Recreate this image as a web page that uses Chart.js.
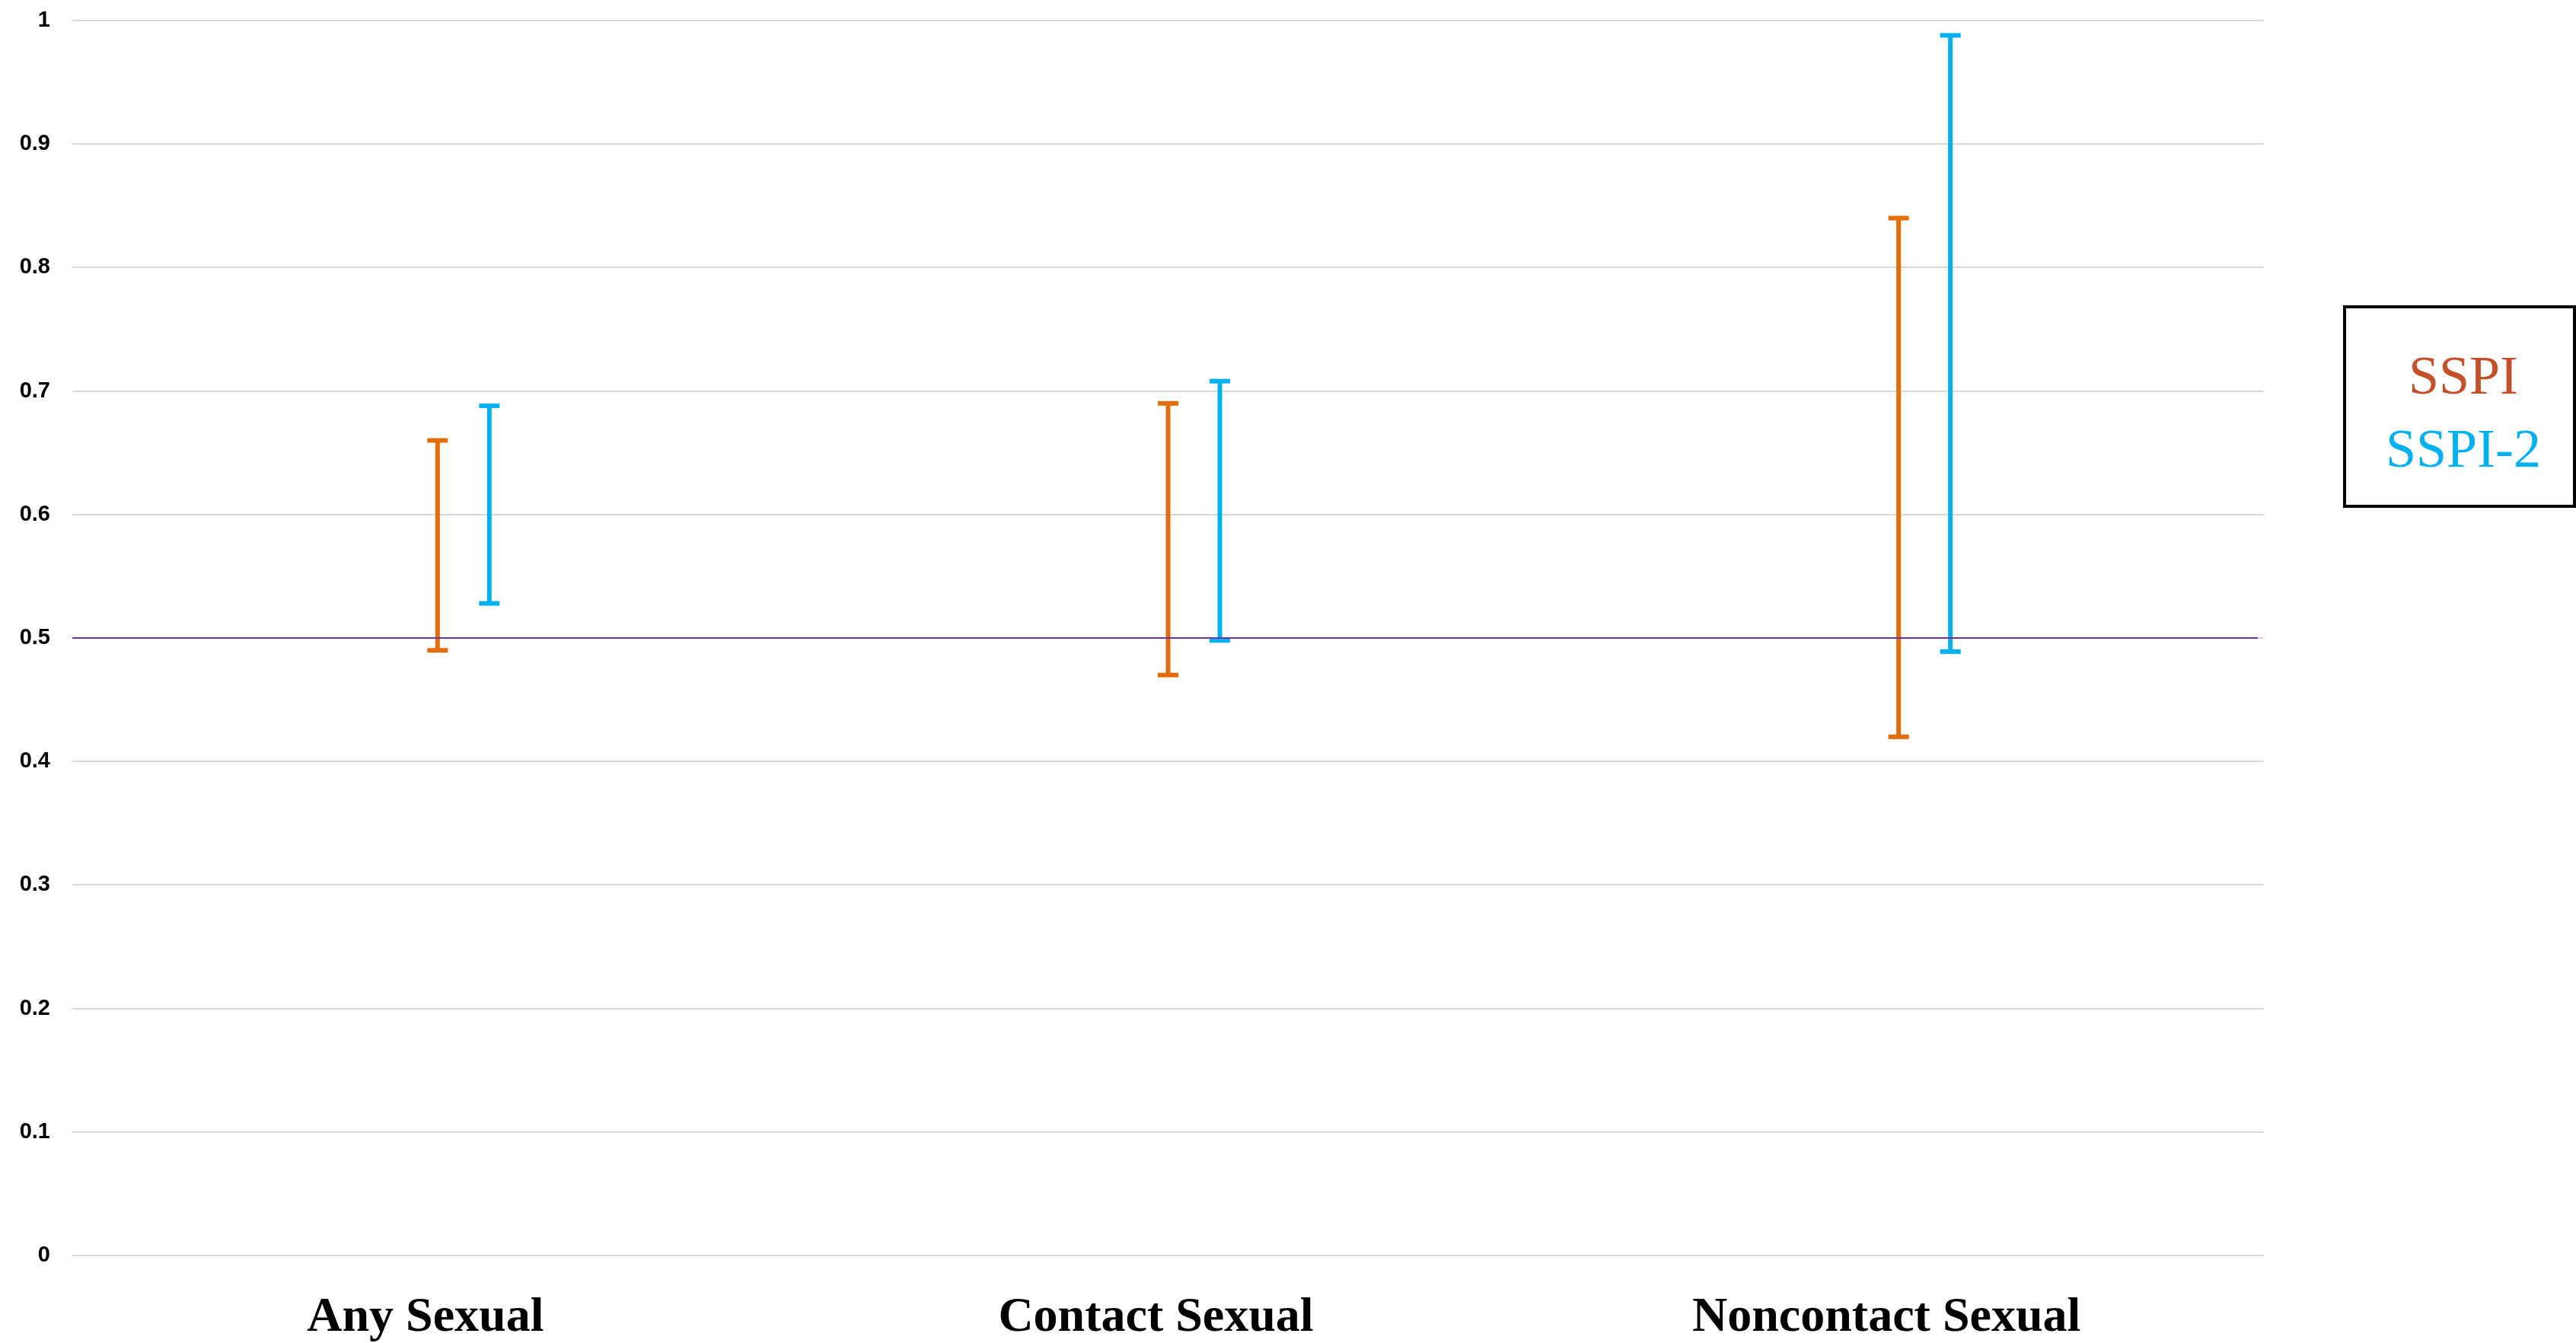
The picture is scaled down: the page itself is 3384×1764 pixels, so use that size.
<!DOCTYPE html>
<html>
<head>
<meta charset="utf-8">
<script src="https://cdn.jsdelivr.net/npm/chart.js@4.4.0/dist/chart.umd.min.js"></script>
<style>
  html, body { margin: 0; padding: 0; background: #fff; }
  #wrap { position: relative; width: 3384px; height: 1764px; }
  #legendBox {
    position: absolute;
    left: 3078px;
    top: 401px;
    width: 306px;
    height: 266px;
    border: 4px solid #000;
    background: #fff;
    font-family: "Liberation Serif", "Times New Roman", serif;
    font-size: 72px;
    line-height: 96px;
    text-align: center;
    padding-top: 40px;
    padding-left: 10px;
    box-sizing: border-box;
  }
</style>
</head>
<body>
<div id="wrap">
  <canvas id="errorChart" width="3384" height="1764"></canvas>
  <div id="legendBox"></div>
</div>
<script>
// categories and interval bounds (lower / upper)
const categories = ["Any Sexual", "Contact Sexual", "Noncontact Sexual"];
const sspiLow = [0.49, 0.47, 0.42];
const sspiHigh = [0.66, 0.69, 0.84];
const sspi2Low = [0.528, 0.498, 0.489];
const sspi2High = [0.688, 0.708, 0.988];
const yTickValues = [0, 0.1, 0.2, 0.3, 0.4, 0.5, 0.6, 0.7, 0.8, 0.9, 1];
const referenceValue = 0.5;

const seriesNames = ["SSPI", "SSPI-2"];
const seriesColors = ["#E46C0A", "#00B0F0"];
const legendTextColors = ["#C4502B", "#00B0F0"];

function toRanges(lows, highs) {
  return lows.map((lo, i) => [lo, highs[i]]);
}

// Legend box (html text)
document.getElementById("legendBox").innerHTML = seriesNames
  .map((name, i) => `<div style="color:${legendTextColors[i]}">${name}</div>`)
  .join("");

// Draw the caps of each error bar
const capsPlugin = {
  id: "caps",
  afterDatasetsDraw(chart) {
    const ctx = chart.ctx;
    chart.data.datasets.forEach((ds, di) => {
      if (ds.spacer) return;
      const meta = chart.getDatasetMeta(di);
      ctx.save();
      ctx.fillStyle = ds.backgroundColor;
      meta.data.forEach((el) => {
        const { x, y, base } = el.getProps(["x", "y", "base"], true);
        if (x == null || isNaN(y)) return;
        ctx.fillRect(x - 13.5, y - 3, 27, 6);
        ctx.fillRect(x - 13.5, base - 3, 27, 6);
      });
      ctx.restore();
    });
  },
};

// Horizontal reference line at 0.5
const refLinePlugin = {
  id: "refLine",
  afterDatasetsDraw(chart) {
    const { ctx, chartArea, scales } = chart;
    const yPix = scales.y.getPixelForValue(referenceValue);
    ctx.save();
    ctx.strokeStyle = "#7030A0";
    ctx.lineWidth = 2;
    ctx.beginPath();
    ctx.moveTo(chartArea.left, yPix);
    ctx.lineTo(chartArea.right - 8, yPix);
    ctx.stroke();
    ctx.restore();
  },
};

const ctx = document.getElementById("errorChart");
new Chart(ctx, {
  type: "bar",
  data: {
    labels: categories,
    datasets: [
      {
        // empty slot so SSPI sits on the category centre
        label: "",
        spacer: true,
        data: categories.map(() => null),
        backgroundColor: "rgba(0,0,0,0)",
      },
      {
        label: seriesNames[0],
        data: toRanges(sspiLow, sspiHigh),
        backgroundColor: seriesColors[0],
      },
      {
        label: seriesNames[1],
        data: toRanges(sspi2Low, sspi2High),
        backgroundColor: seriesColors[1],
      },
    ],
  },
  options: {
    responsive: false,
    animation: false,
    devicePixelRatio: 1,
    categoryPercentage: 0.2125,
    barPercentage: 0.088,
    layout: {
      padding: { top: 27, right: 410, bottom: 0, left: 0 },
    },
    plugins: {
      legend: { display: false },
      tooltip: { enabled: false },
    },
    scales: {
      x: {
        grid: { display: false },
        border: { display: false },
        afterFit: (scale) => {
          scale.height = 115;
        },
        ticks: {
          color: "#000",
          padding: 36,
          labelOffset: -16,
          maxRotation: 0,
          font: {
            family: "'Liberation Serif', 'Times New Roman', serif",
            size: 64,
            weight: "bold",
          },
        },
      },
      y: {
        min: 0,
        max: 1,
        afterFit: (scale) => {
          scale.width = 95;
          scale.paddingTop = 0;
          scale.paddingBottom = 0;
        },
        afterBuildTicks: (scale) => {
          scale.ticks = yTickValues.map((v) => ({ value: v }));
        },
        grid: {
          color: "#D9D9D9",
          lineWidth: 2,
          drawTicks: false,
        },
        border: { display: false },
        ticks: {
          color: "#000",
          padding: 29,
          callback: (value) => String(parseFloat(value.toFixed(1))),
          font: {
            family: "'Liberation Sans', Arial, sans-serif",
            size: 29,
            weight: "bold",
          },
        },
      },
    },
  },
  plugins: [capsPlugin, refLinePlugin],
});
</script>
</body>
</html>
